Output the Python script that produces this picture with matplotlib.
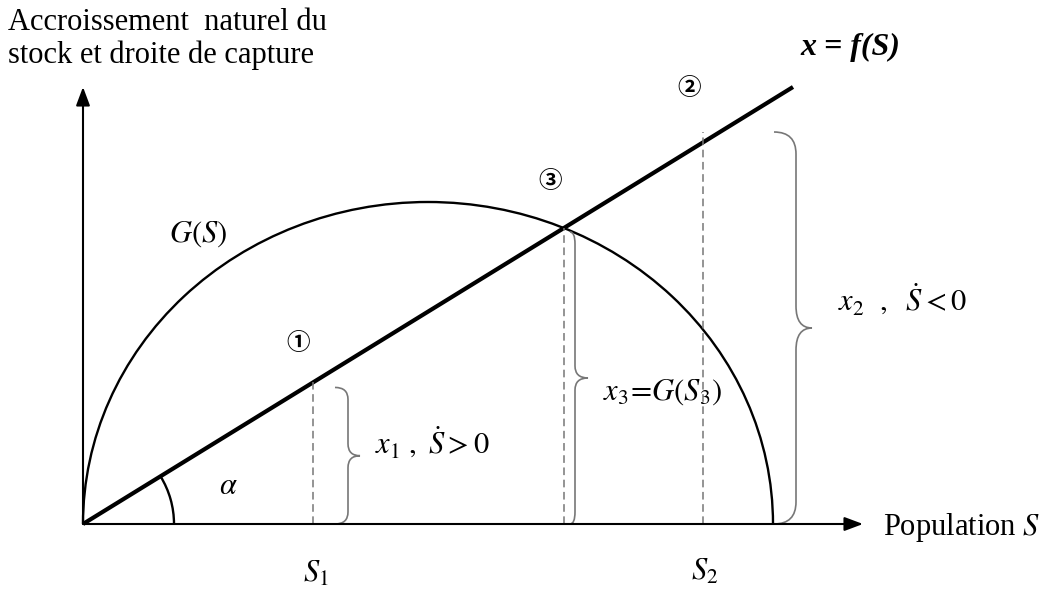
import numpy as np
import matplotlib
matplotlib.use("Agg")
import matplotlib.pyplot as plt
from matplotlib.patches import Arc, PathPatch
from matplotlib.path import Path

plt.rcParams['font.family'] = ['Liberation Serif', 'DejaVu Serif']
plt.rcParams['mathtext.fontset'] = 'stix'

# ---- diagram values (units ~ pixels from origin) ----
K = 690            # carrying capacity (G(S) = 0)
G_MAX = 322        # maximum natural growth
Q = 0.6155         # slope of the capture line x = f(S)
S_LINE_END = 710   # where the capture line stops
S_AXIS_END = 780   # x-axis arrow tip
Y_AXIS_END = 437   # y-axis arrow tip
stock_names = ['S_{\\mathit{1}}', 'S_{\\mathit{2}}', 'S_{\\mathit{3}}']
stock_values = [230, 620, 481]
circle_labels = ['①', '②', '③']

fig = plt.figure(figsize=(10.47, 5.91), dpi=100)
ax = fig.add_axes([0, 0, 1, 1])
ax.set_xlim(-83, 964)
ax.set_ylim(-67, 524)
ax.axis('off')

# axes with arrows
arrow = dict(arrowstyle='-|>,head_length=0.8,head_width=0.3', mutation_scale=14,
             lw=1.5, color='black', shrinkA=0, shrinkB=0)
ax.annotate('', xy=(S_AXIS_END, 0), xytext=(0, 0), arrowprops=arrow)
ax.annotate('', xy=(0, Y_AXIS_END), xytext=(0, 0), arrowprops=arrow)

# natural growth curve G(S): half ellipse
ax.add_patch(Arc((K / 2, 0), K, 2 * G_MAX, theta1=0, theta2=180,
                 lw=1.7, color='black'))

# capture line
ax.plot([0, S_LINE_END], [0, Q * S_LINE_END], color='black', lw=3, solid_capstyle='butt')

# angle alpha
alpha_deg = np.degrees(np.arctan(Q))
ax.add_patch(Arc((0, 0), 182, 182, theta1=0, theta2=alpha_deg, lw=1.7, color='black'))

S1, S2, S3 = stock_values
dash = dict(color='#777777', lw=1.1, linestyle=(0, (5, 3)))
ax.plot([S1, S1], [0, Q * S1], **dash)
ax.plot([S3, S3], [0, Q * S3], **dash)
ax.plot([S2, S2], [0, Q * S2 + 10], **dash)


def brace(x0, y0, y1, hook, tip, r):
    ym = (y0 + y1) / 2
    verts = [(x0 - hook, y1), (x0, y1), (x0, y1 - r),
             (x0, ym + r), (x0, ym), (x0 + tip, ym),
             (x0, ym), (x0, ym - r),
             (x0, y0 + r), (x0, y0), (x0 - hook, y0)]
    codes = [Path.MOVETO, Path.CURVE3, Path.CURVE3,
             Path.LINETO, Path.CURVE3, Path.CURVE3,
             Path.CURVE3, Path.CURVE3,
             Path.LINETO, Path.CURVE3, Path.CURVE3]
    ax.add_patch(PathPatch(Path(verts, codes), fill=False, edgecolor='#777777', lw=1.2))


brace(S1 + 35, 0, Q * S1 - 5, 13, 12, 12)
brace(S3 + 11, 0, Q * S3 - 4, 5, 13, 12)
brace(713, 0, 392, 22, 16, 22)

FS = 22
# texts
ax.text(-75, 494, 'Accroissement  naturel du', fontsize=FS, va='baseline', ha='left')
ax.text(-75, 461, 'stock et droite de capture', fontsize=FS, va='baseline', ha='left')
ax.text(767, 477, 'x = f(S)', fontsize=23, fontweight='bold', fontstyle='italic',
        ha='center', va='center')
ax.text(800, -4, 'Population $S$', fontsize=FS, ha='left', va='center')
ax.text(115, 290, '$G(S)$', fontsize=FS, ha='center', va='center')
ax.text(145, 37, r'$\alpha$', fontsize=FS, ha='center', va='center')
ax.text(292, 81, r'$x_{\mathit{1}}\ ,\ \dot{S} > 0$', fontsize=FS, ha='left', va='center')
ax.text(520, 132, r'$x_{\mathit{3}}\!=\!G(S_{\mathit{3}})$', fontsize=FS, ha='left', va='center')
ax.text(755, 224, r'$x_{\mathit{2}}\ \ ,\ \ \dot{S} < 0$', fontsize=FS, ha='left', va='center')
ax.text(S1 + 3, -50, '$' + stock_names[0] + '$', fontsize=FS, ha='center', va='center')
ax.text(S2 + 2, -48, '$' + stock_names[1] + '$', fontsize=FS, ha='center', va='center')

circ_font = ['Noto Sans CJK JP', 'DejaVu Sans']
for lab, pos in zip(circle_labels, [(215, 181), (606, 436), (467, 343)]):
    ax.text(pos[0], pos[1], lab, fontsize=17, family=circ_font, fontweight='bold',
            ha='center', va='center')

fig.savefig('out.png', dpi=100)
